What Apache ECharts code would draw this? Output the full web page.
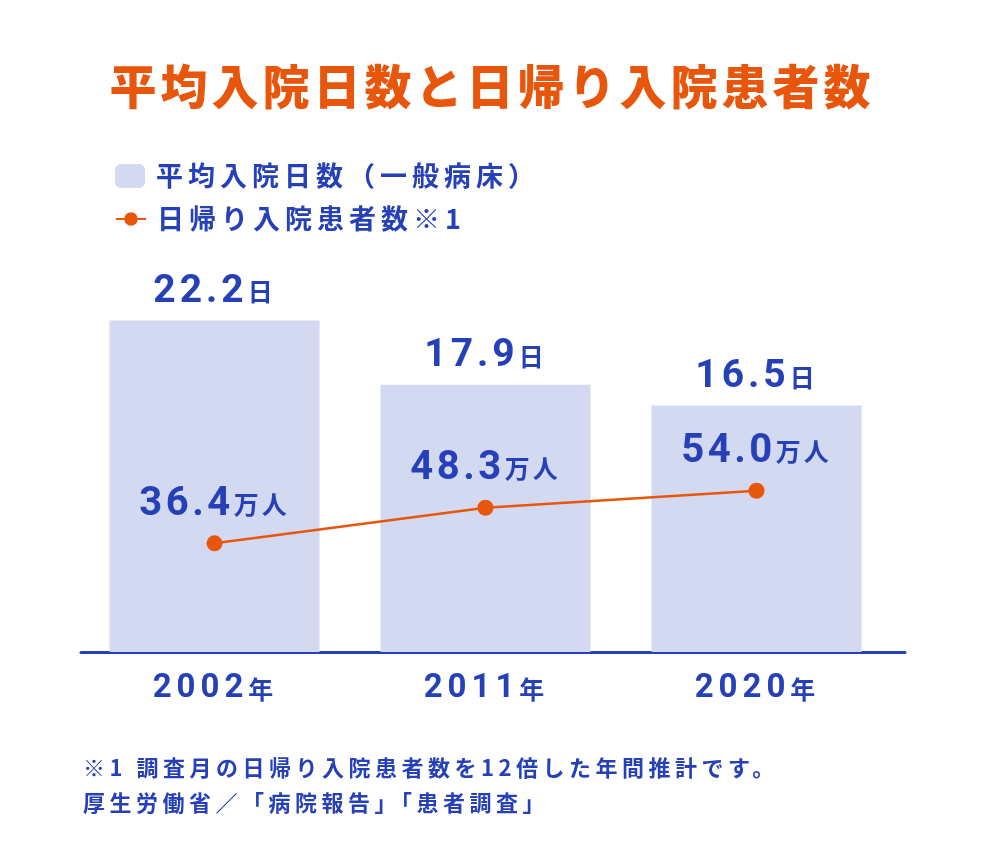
<!DOCTYPE html>
<html><head><meta charset="utf-8">
<script src="https://cdn.jsdelivr.net/npm/echarts@6/dist/echarts.min.js"></script>
<style>html,body{margin:0;padding:0;background:#fff}#c{width:984px;height:864px}</style>
</head><body><div id="c"></div>
<script>
const categories = ['2002', '2011', '2020'];
const yearSuffix = '年';
const stayDays = [22.2, 17.9, 16.5];
const dayPatients = [36.4, 48.3, 54.0];
const titleText = '平均入院日数と日帰り入院患者数';
const barName = '平均入院日数（一般病床）';
const lineName = '日帰り入院患者数※1';
const noteLines = ['※1 調査月の日帰り入院患者数を12倍した年間推計です。', '厚生労働省／「病院報告」「患者調査」'];

// letter spacing per font size (px), applied to canvas text drawing and measuring
const LETTER_SPACING = { '47': 4, '27': 5, '39': 4, '40': 3.5, '25': 3, '33': 5, '22': 4.5 };
(function () {
  const proto = CanvasRenderingContext2D.prototype;
  const desc = Object.getOwnPropertyDescriptor(proto, 'font');
  if (!desc || !('letterSpacing' in proto)) return;
  Object.defineProperty(proto, 'font', {
    configurable: true,
    get() { return desc.get.call(this); },
    set(v) {
      desc.set.call(this, v);
      const m = /(\d+(?:\.\d+)?)px/.exec(v);
      const s = m ? LETTER_SPACING[m[1]] : 0;
      this.letterSpacing = (s || 0) + 'px';
    }
  });
})();

const BLUE = '#2640b8', ORANGE = '#e8560c', BAR = '#d3d9f0';
const NUM = 'Roboto, "Noto Sans CJK JP", sans-serif';
const CJK = '"Noto Sans CJK JP", sans-serif';

const chart = echarts.init(document.getElementById('c'));
chart.setOption({
  backgroundColor: '#fff',
  animation: false,
  title: [{
    text: titleText, left: 'center', top: 56,
    textStyle: { color: ORANGE, fontSize: 47, fontWeight: 900, fontFamily: CJK }
  }, {
    text: noteLines.join('\n'), left: 78, top: 745,
    textStyle: { color: BLUE, fontSize: 22, fontWeight: 'bold', fontFamily: CJK, lineHeight: 35 }
  }],
  legend: [{
    data: [barName], orient: 'vertical', left: 110, top: 155,
    itemWidth: 30, itemHeight: 24,
    textStyle: { color: BLUE, fontSize: 27, fontWeight: 'bold', fontFamily: CJK, padding: [0, 0, 0, 6] }
  }, {
    data: [lineName], orient: 'vertical', left: 110, top: 198,
    itemWidth: 30, itemHeight: 17,
    textStyle: { color: BLUE, fontSize: 27, fontWeight: 'bold', fontFamily: CJK, padding: [0, 0, 0, 6] }
  }],
  grid: [
    { left: 79, right: 92, top: 204, bottom: 212 },
    { left: 81, right: 79, top: 204, bottom: 212 }
  ],
  xAxis: [{
    type: 'category', data: categories, gridIndex: 0,
    axisLine: { show: false }, axisTick: { show: false },
    axisLabel: {
      margin: 18,
      formatter: v => '{n|' + v + '}{u|' + yearSuffix + '}',
      rich: {
        n: { color: BLUE, fontSize: 33, fontWeight: 'bold', fontFamily: NUM },
        u: { color: BLUE, fontSize: 25, fontWeight: 'bold', fontFamily: CJK }
      }
    }
  }, {
    type: 'value', gridIndex: 1, min: 0, max: 1,
    axisLine: { show: true, lineStyle: { color: BLUE, width: 3 } },
    axisTick: { show: false }, axisLabel: { show: false }, splitLine: { show: false }
  }],
  yAxis: [
    { type: 'value', min: 0, max: 30, show: false, gridIndex: 0 },
    { type: 'value', min: 0, max: 150, show: false, gridIndex: 0 },
    { type: 'value', min: 0, max: 1, show: false, gridIndex: 1 }
  ],
  series: [{
    name: barName, type: 'bar', data: stayDays, barWidth: 210,
    xAxisIndex: 0, yAxisIndex: 0,
    itemStyle: { color: BAR },
    label: {
      show: true, position: 'top', distance: 7,
      formatter: p => '{n|' + p.value.toFixed(1) + '}{u|日}',
      rich: {
        n: { color: BLUE, fontSize: 39, fontWeight: 'bold', fontFamily: NUM },
        u: { color: BLUE, fontSize: 25, fontWeight: 'bold', fontFamily: CJK }
      }
    }
  }, {
    name: lineName, type: 'line', data: dayPatients,
    xAxisIndex: 0, yAxisIndex: 1,
    symbol: 'circle', symbolSize: 16,
    lineStyle: { color: ORANGE, width: 2.5 },
    itemStyle: { color: ORANGE },
    label: {
      show: true, position: 'top', distance: 9,
      formatter: p => '{n|' + p.value.toFixed(1) + '}{u|万人}',
      rich: {
        n: { color: BLUE, fontSize: 40, fontWeight: 'bold', fontFamily: NUM },
        u: { color: BLUE, fontSize: 25, fontWeight: 'bold', fontFamily: CJK }
      }
    }
  }]
});
</script></body></html>
